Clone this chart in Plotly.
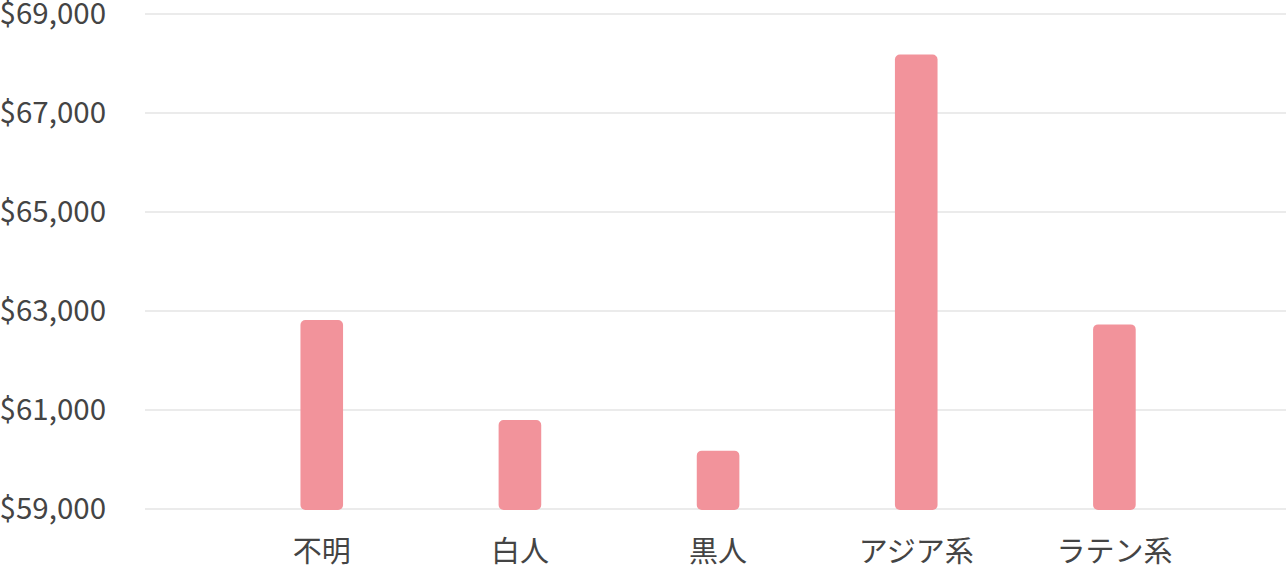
import plotly.graph_objects as go

groups = ['不明', '白人', '黒人', 'アジア系', 'ラテン系']
income = [62820, 60800, 60180, 68180, 62730]
y_ticks = [59000, 61000, 63000, 65000, 67000, 69000]
y_tick_labels = ['$59,000', '$61,000', '$63,000', '$65,000', '$67,000', '$69,000']
bar_base = 58980

font_family = 'Noto Sans CJK JP'
text_color = '#444444'

# bars sit on the $59,000 line (covering it), the axis itself has a bit of slack
fig = go.Figure(go.Bar(
    x=groups,
    y=[v - bar_base for v in income],
    base=bar_base,
    width=0.215,
    marker=dict(color='#f2939b', cornerradius=5, line=dict(width=0)),
    hoverinfo='skip',
))

fig.update_layout(
    width=1286,
    height=565,
    margin=dict(l=145, r=0, t=9, b=51),
    paper_bgcolor='white',
    plot_bgcolor='white',
    showlegend=False,
    font=dict(family=font_family, size=29, color=text_color),
)

fig.update_xaxes(
    type='category',
    range=[-0.892, 4.866],
    automargin=False,
    showgrid=False,
    showline=False,
    zeroline=False,
    ticks='',
    ticklabelstandoff=18,
    tickfont=dict(family=font_family, size=29, color=text_color),
)

fig.update_yaxes(
    range=[58900, 69100],
    automargin=False,
    tickvals=y_ticks,
    ticktext=y_tick_labels,
    ticklabeloverflow='allow',
    showgrid=True,
    gridcolor='#ebebeb',
    gridwidth=2,
    zeroline=False,
    showline=False,
    ticks='',
    ticklabelstandoff=38,
    tickfont=dict(family=font_family, size=29.5, color=text_color),
)

# the page's default body margin would push the chart 8px in
fig.write_html('out.html', config={'displayModeBar': False},
               post_script="document.body.style.margin='0';")
